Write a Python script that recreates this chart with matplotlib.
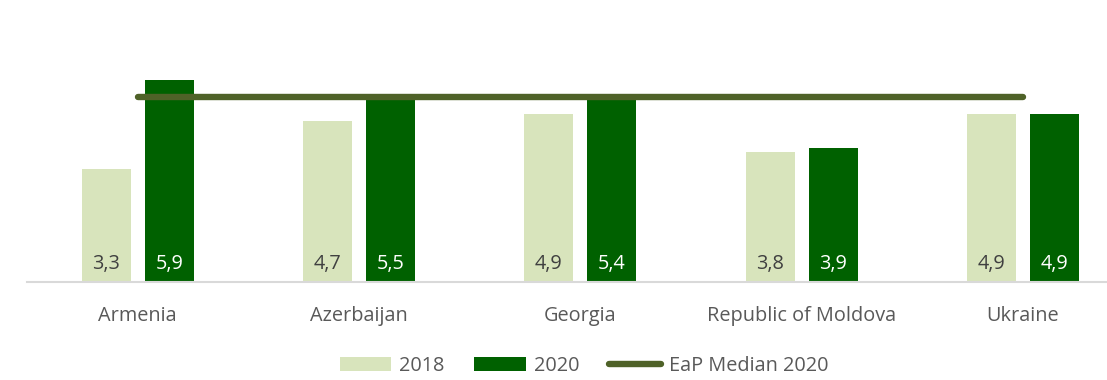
import matplotlib
matplotlib.use("Agg")
import matplotlib.pyplot as plt
from matplotlib.patches import Patch
from matplotlib.lines import Line2D
import numpy as np

plt.rcParams['font.family'] = ['Open Sans', 'DejaVu Sans']

countries = ["Armenia", "Azerbaijan", "Georgia", "Republic of Moldova", "Ukraine"]
values_2018 = [3.3, 4.7, 4.9, 3.8, 4.9]
values_2020 = [5.9, 5.5, 5.4, 3.9, 4.9]
eap_median_2020 = 5.4

c_2018 = "#d8e4bc"
c_2020 = "#006100"
c_median = "#4f6228"
c_text = "#595959"

W, H = 1107, 380
fig = plt.figure(figsize=(W / 100, H / 100), dpi=100)
# axes spans from the baseline (y=282px) to the top edge, x from 27px to the right edge
ax = fig.add_axes([27 / W, (H - 282) / H, 1 - 27 / W, 282 / H])

x = np.arange(len(countries))
bw = 0.2215
off = 0.1425
b1 = ax.bar(x - off, values_2018, bw, color=c_2018, zorder=2)
b2 = ax.bar(x + off, values_2020, bw, color=c_2020, zorder=2)
ax.plot([x[0], x[-1]], [eap_median_2020] * 2, color=c_median, lw=4.6,
        solid_capstyle="round", zorder=3)

fs = 14.3
for rect, v in zip(b1, values_2018):
    ax.text(rect.get_x() + rect.get_width() / 2, 0.52, f"{v:.1f}".replace(".", ","),
            ha="center", va="center", fontsize=fs, color="#404040", zorder=4)
for rect, v in zip(b2, values_2020):
    ax.text(rect.get_x() + rect.get_width() / 2, 0.52, f"{v:.1f}".replace(".", ","),
            ha="center", va="center", fontsize=fs, color="white", zorder=4)

ax.set_xlim(-0.5, (W - 138) / 221.25)
ax.set_ylim(0, 282 / 34.24)
ax.set_xticks(x)
ax.set_xticklabels(countries, fontsize=fs, color=c_text)
ax.tick_params(axis="x", length=0, pad=17)
ax.set_yticks([])
for s in ["top", "right", "left"]:
    ax.spines[s].set_visible(False)
ax.spines["bottom"].set_color("#d9d9d9")
ax.spines["bottom"].set_linewidth(1.5)

handles = [Patch(facecolor=c_2018, label="2018"),
           Patch(facecolor=c_2020, label="2020"),
           Line2D([0], [0], color=c_median, lw=4.6, solid_capstyle="round",
                  label="EaP Median 2020")]
fig.legend(handles=handles, loc="center", ncol=3, frameon=False,
           bbox_to_anchor=(584 / W, 1 - 366 / H), fontsize=fs,
           handlelength=2.6, handleheight=0.75, handletextpad=0.4,
           columnspacing=1.5, labelcolor=c_text)

fig.savefig("out.png", dpi=100)
